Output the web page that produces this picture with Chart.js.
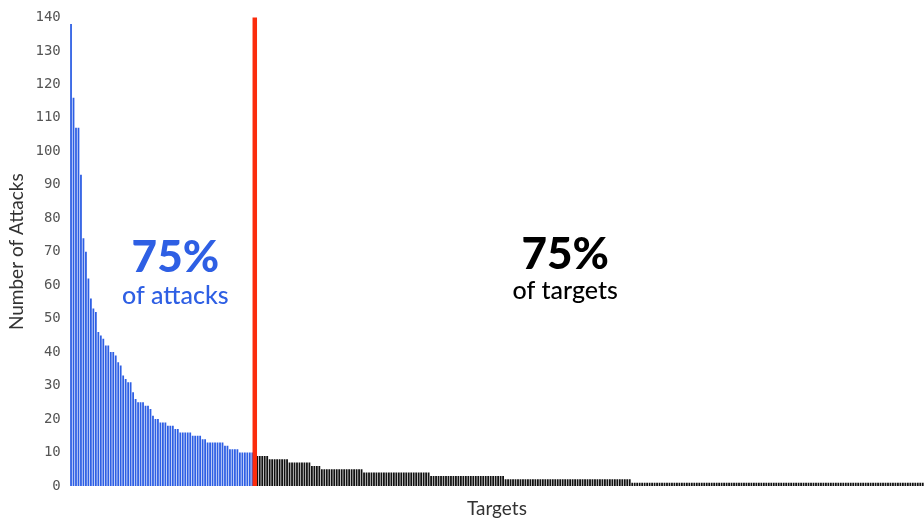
<!DOCTYPE html>
<html>
<head>
<meta charset="utf-8">
<script src="https://cdn.jsdelivr.net/npm/chart.js@4/dist/chart.umd.min.js"></script>
<style>
  html, body { margin: 0; padding: 0; background: #fff; }
  #wrap { width: 924px; height: 518px; position: relative; }
</style>
</head>
<body>
<div id="wrap"><canvas id="attackChart"></canvas></div>
<script>
// attacks per target, sorted; blue = targets receiving 75% of attacks
const blueAttacks = [
  138, 116, 107, 107, 93, 74, 70, 62, 56, 53,
  52, 46, 45, 44, 42, 42, 40, 40, 39, 37,
  36, 33, 32, 31, 31, 28, 26, 25, 25, 25,
  24, 24, 23, 21, 20, 20, 19, 19, 19, 18,
  18, 18, 17, 17, 16, 16, 16, 16, 16, 15,
  15, 15, 15, 14, 14, 13, 13, 13, 13, 13,
  13, 13, 12, 12, 11, 11, 11, 11, 10, 10,
  10, 10, 10, 10,
];

// remaining 75% of targets
const blackAttacks = [
  9, 9, 9, 9, 9,
  8, 8, 8, 8, 8, 8, 8, 8,
  7, 7, 7, 7, 7, 7, 7, 7, 7,
  6, 6, 6, 6,
  5, 5, 5, 5, 5, 5, 5, 5, 5, 5, 5, 5, 5, 5, 5, 5, 5,
  4, 4, 4, 4, 4, 4, 4, 4, 4, 4, 4, 4, 4, 4, 4, 4, 4, 4, 4, 4, 4, 4, 4, 4, 4, 4, 4,
  3, 3, 3, 3, 3, 3, 3, 3, 3, 3, 3, 3, 3, 3, 3, 3, 3, 3, 3, 3, 3, 3, 3, 3, 3, 3, 3, 3, 3, 3,
  2, 2, 2, 2, 2, 2, 2, 2, 2, 2, 2, 2, 2, 2, 2, 2, 2, 2, 2, 2, 2, 2, 2, 2, 2,
  2, 2, 2, 2, 2, 2, 2, 2, 2, 2, 2, 2, 2, 2, 2, 2, 2, 2, 2, 2, 2, 2, 2, 2, 2, 2,
  1, 1, 1, 1, 1, 1, 1, 1, 1, 1, 1, 1, 1, 1, 1, 1, 1, 1, 1, 1, 1, 1, 1, 1, 1, 1, 1, 1, 1, 1,
  1, 1, 1, 1, 1, 1, 1, 1, 1, 1, 1, 1, 1, 1, 1, 1, 1, 1, 1, 1, 1, 1, 1, 1, 1, 1, 1, 1, 1, 1,
  1, 1, 1, 1, 1, 1, 1, 1, 1, 1, 1, 1, 1, 1, 1, 1, 1, 1, 1, 1, 1, 1, 1, 1, 1, 1, 1, 1, 1, 1,
  1, 1, 1, 1, 1, 1, 1, 1, 1, 1, 1, 1, 1, 1, 1, 1, 1, 1, 1, 1, 1, 1, 1, 1, 1, 1, 1, 1,
];

const yTicks = [0, 10, 20, 30, 40, 50, 60, 70, 80, 90, 100, 110, 120, 130, 140];

const BLUE = "#2e5fe4";
const BLACK = "#111111";
const RED = "#fb2c0c";

// one empty slot where the red split line sits
const values = [...blueAttacks, null, ...blackAttacks];
const labels = values.map((_, i) => "Target " + (i + 1));
const splitIndex = blueAttacks.length;

const splitPlugin = {
  id: "split",
  afterDatasetsDraw(chart) {
    const { ctx, scales: { x, y } } = chart;
    const px = x.getPixelForValue(splitIndex);
    ctx.save();
    ctx.strokeStyle = RED;
    ctx.lineWidth = 4.5;
    ctx.beginPath();
    ctx.moveTo(px, y.getPixelForValue(140));
    ctx.lineTo(px, y.getPixelForValue(0));
    ctx.stroke();

    ctx.textAlign = "center";
    ctx.textBaseline = "alphabetic";
    const bx = x.getPixelForValue(42);
    ctx.fillStyle = BLUE;
    ctx.font = "900 44px Lato";
    ctx.fillText("75%", bx, y.getPixelForValue(63.9));
    ctx.font = "500 25px Lato";
    ctx.fillText("of attacks", bx, y.getPixelForValue(54.4));

    const kx = x.getPixelForValue(199);
    ctx.fillStyle = "#000";
    ctx.font = "900 44px Lato";
    ctx.fillText("75%", kx, y.getPixelForValue(64.8));
    ctx.font = "500 25px Lato";
    ctx.fillText("of targets", kx, y.getPixelForValue(55.8));
    ctx.restore();
  },
};

new Chart(document.getElementById("attackChart"), {
  type: "bar",
  data: {
    labels: labels,
    datasets: [
      {
        label: "Attacks",
        data: values,
        backgroundColor: values.map((_, i) => (i < splitIndex ? BLUE : BLACK)),
        barPercentage: 0.72,
        categoryPercentage: 1,
      },
    ],
  },
  options: {
    responsive: true,
    maintainAspectRatio: false,
    animation: false,
    layout: { padding: { top: 14, left: 3, right: 0, bottom: 0 } },
    plugins: { legend: { display: false }, tooltip: { enabled: false } },
    scales: {
      x: {
        grid: { display: false, drawTicks: false },
        border: { display: false },
        ticks: { display: false },
        title: {
          display: true,
          text: "Targets",
          color: "#333",
          font: { family: "Lato", size: 19, lineHeight: 1 },
          padding: { top: 13, bottom: 0 },
        },
      },
      y: {
        min: 0,
        max: 140,
        afterBuildTicks: (axis) => { axis.ticks = yTicks.map((v) => ({ value: v })); },
        grid: { display: false, drawTicks: false },
        border: { display: false },
        ticks: {
          color: "#555",
          padding: 9,
          font: { family: "DejaVu Sans Mono", size: 14 },
        },
        title: {
          display: true,
          text: "Number of Attacks",
          color: "#333",
          font: { family: "Lato", size: 19, lineHeight: 1 },
          padding: { top: 4.5, bottom: 0 },
        },
      },
    },
  },
  plugins: [splitPlugin],
});
</script>
</body>
</html>
